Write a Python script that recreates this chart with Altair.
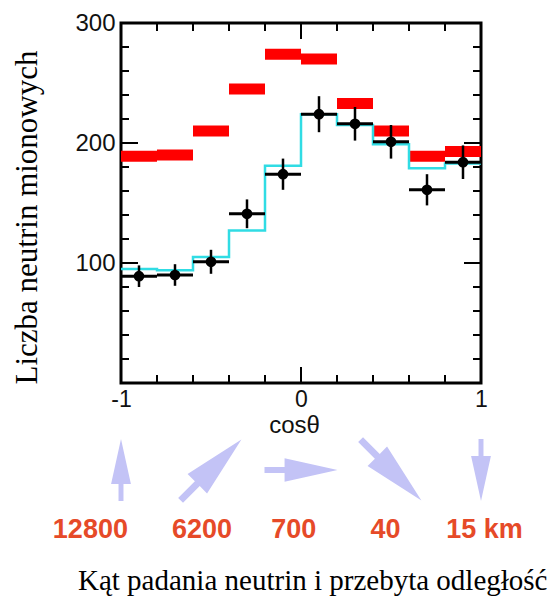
import altair as alt
import pandas as pd

# ---------------- data ----------------
bin_lo = [-1.0, -0.8, -0.6, -0.4, -0.2, 0.0, 0.2, 0.4, 0.6, 0.8]
bin_hi = [-0.8, -0.6, -0.4, -0.2, 0.0, 0.2, 0.4, 0.6, 0.8, 1.0]
no_osc = [189, 190, 210, 245, 274, 270, 233, 210, 189, 193]      # expectation without oscillations (red)
osc_fit = [95, 94, 105, 127, 181, 224, 215, 199, 179, 183]       # oscillation best fit (cyan)
observed = [89, 90, 101, 141, 174, 224, 216, 201, 161, 184]      # data (black)
obs_err = [9, 9, 10, 12, 13, 15, 14, 14, 13, 14]

x_tick_minor = [-0.8, -0.6, -0.4, -0.2, 0.2, 0.4, 0.6, 0.8]
x_tick_major = [0.0]
y_tick_minor = [20, 40, 60, 80, 120, 140, 160, 180, 220, 240, 260, 280]
y_tick_major = [100, 200]
x_labels = [-1, 0, 1]
y_labels = [100, 200, 300]

dir_cos = [-1.0, -0.5, 0.0, 0.5, 1.0]
dist_labels = ["12800", "6200", "700", "40", "15 km"]
x_title = "cosθ"
y_title = "Liczba neutrin mionowych"
bottom_title = "Kąt padania neutrin i przebyta odległość"

# ---------------- tables ----------------
bins = pd.DataFrame({"lo": bin_lo, "hi": bin_hi, "no_osc": no_osc,
                     "obs": observed, "err": obs_err})
bins["mid"] = (bins["lo"] + bins["hi"]) / 2
bins["obs_lo"] = bins["obs"] - bins["err"]
bins["obs_hi"] = bins["obs"] + bins["err"]

step = pd.DataFrame({"x": bin_lo + [bin_hi[-1]], "y": osc_fit + [osc_fit[-1]]})

xt = pd.DataFrame({"v": x_tick_minor + x_tick_major,
                   "len": [8] * len(x_tick_minor) + [16] * len(x_tick_major)})
yt = pd.DataFrame({"v": y_tick_minor + y_tick_major,
                   "len": [8] * len(y_tick_minor) + [17] * len(y_tick_major)})

arrows = pd.DataFrame({"c": dir_cos, "len": [62, 86, 73, 86, 62]})
labels = pd.DataFrame({"t": dist_labels, "p": [-1.17, -0.55, -0.04, 0.47, 1.02]})

X = alt.Scale(domain=[-1, 1], nice=False, zero=False)
Y = alt.Scale(domain=[0, 300], nice=False, zero=False)

SANS = "Liberation Sans"
SERIF = "Liberation Serif"

red = alt.Chart(bins).mark_rule(color="#ff0000", strokeWidth=11, strokeCap="butt").encode(
    x=alt.X("lo:Q", scale=X, axis=alt.Axis(
        values=x_labels, labelExpr="'' + datum.value", ticks=False, domain=False, grid=False,
        labelFlush=False, labelFont=SANS, labelFontSize=23, labelColor="#111", labelPadding=5,
        title=x_title, titleFont=SANS, titleFontSize=24, titleFontWeight="normal",
        titleColor="#111", titlePadding=2, titleX=173)),
    x2="hi:Q",
    y=alt.Y("no_osc:Q", scale=Y, axis=alt.Axis(
        values=y_labels, format="d", ticks=False, domain=False, grid=False,
        labelFlush=False, labelFont=SANS, labelFontSize=24, labelColor="#111", labelPadding=6,
        title=y_title, titleFont=SERIF, titleFontSize=31, titleFontWeight="normal",
        titleColor="black", titleX=-94, titleY=194, titleAlign="center",
        titleBaseline="middle", titleAngle=-90)),
)

cyan = alt.Chart(step).mark_line(interpolate="step-after", color="#30dce4", strokeWidth=2.5).encode(
    x=alt.X("x:Q", scale=X),
    y=alt.Y("y:Q", scale=Y),
)

hbar = alt.Chart(bins).mark_rule(color="black", strokeWidth=3).encode(
    x=alt.X("lo:Q", scale=X), x2="hi:Q",
    y=alt.Y("obs:Q", scale=Y),
)
vbar = alt.Chart(bins).mark_rule(color="black", strokeWidth=2.5).encode(
    x=alt.X("mid:Q", scale=X),
    y=alt.Y("obs_lo:Q", scale=Y), y2="obs_hi:Q",
)
pts = alt.Chart(bins).mark_circle(color="black", size=115, opacity=1).encode(
    x=alt.X("mid:Q", scale=X),
    y=alt.Y("obs:Q", scale=Y),
)

# inward ticks (clipped to the frame)
def xticks(ypix):
    return alt.Chart(xt).transform_calculate(s="2 * datum.len").mark_tick(
        orient="vertical", clip=True, thickness=2, color="black", opacity=1).encode(
        x=alt.X("v:Q", scale=X), y=alt.value(ypix),
        size=alt.Size("s:Q", scale=None))

def yticks(xpix):
    return alt.Chart(yt).transform_calculate(s="2 * datum.len").mark_tick(
        orient="horizontal", clip=True, thickness=2, color="black", opacity=1).encode(
        y=alt.Y("v:Q", scale=Y), x=alt.value(xpix),
        size=alt.Size("s:Q", scale=None))

ARROW = "M0,-1 L0.32,0.45 L0.08,0.45 L0.08,1 L-0.08,1 L-0.08,0.45 L-0.32,0.45 Z"
arrow_layer = alt.Chart(arrows).transform_calculate(
    ang="(datum.c + 1) * 90", sz="datum.len * datum.len").mark_point(
    shape=ARROW, filled=True, color="#c3c3f6", opacity=1, strokeWidth=0).encode(
    x=alt.X("c:Q", scale=X), y=alt.value(447),
    angle=alt.Angle("ang:Q", scale=None), size=alt.Size("sz:Q", scale=None))

label_layer = alt.Chart(labels).mark_text(
    font=SANS, fontSize=27, fontWeight="bold", color="#e64a28", baseline="middle").encode(
    x=alt.X("p:Q", scale=X), y=alt.value(507), text="t:N")

bottom = alt.Chart(alt.Data(values=[{"t": bottom_title}])).mark_text(
    font=SERIF, fontSize=29, color="black", align="left", baseline="alphabetic").encode(
    x=alt.value(-43), y=alt.value(567), text="t:N")

chart = alt.layer(
    red, cyan, hbar, vbar, pts, xticks(360), xticks(0), yticks(0), yticks(360),
    arrow_layer, label_layer, bottom
).properties(
    width=360, height=360,
    autosize=alt.AutoSizeParams(type="none"),
    padding={"left": 113, "top": 15, "right": 67, "bottom": 214},
).configure_view(stroke="black", strokeWidth=3)

chart.save("out.html", embed_options={"renderer": "svg", "actions": False})
